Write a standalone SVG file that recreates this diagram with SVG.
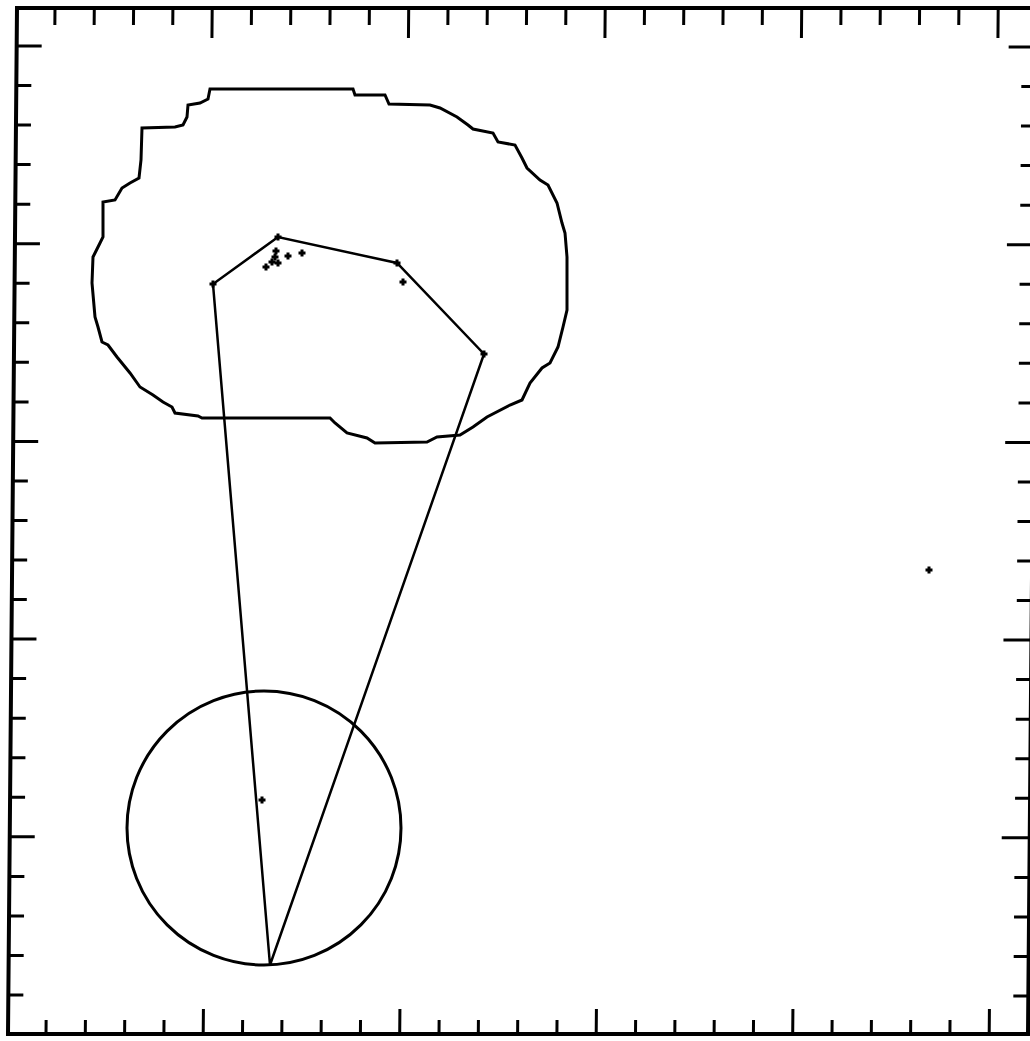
<svg xmlns="http://www.w3.org/2000/svg" xmlns:xlink="http://www.w3.org/1999/xlink" width="1030" height="1041" viewBox="0 0 1030 1041">
<style>
.frame{fill:none;stroke:#000;stroke-width:4}
.tick{stroke:#000;stroke-width:3}
.shape{fill:none;stroke:#000;stroke-width:3;stroke-linejoin:miter}
.edge{fill:none;stroke:#000;stroke-width:2.5}
</style>
<defs>
<path id="pt" d="M-3.5,0H3.5M0,-3.5V3.5" stroke="#000" stroke-width="3"/>
</defs>
<rect width="1030" height="1041" fill="#fff"/>
<g id="frame" transform="matrix(1 0 -0.00877 1 0.07 0)">
<rect class="frame" x="17" y="8" width="1020" height="1026"/>
<g class="tick">
<path d="M55,8v17M94.3,8v17M133.6,8v17M172.9,8v17M212.2,8v30M251.5,8v17M290.8,8v17M330.1,8v17M369.4,8v17M408.7,8v30M448,8v17M487.3,8v17M526.6,8v17M565.9,8v17M605.2,8v30M644.5,8v17M683.8,8v17M723.1,8v17M762.4,8v17M801.7,8v30M841,8v17M880.3,8v17M919.6,8v17M958.9,8v17M998.2,8v30"/>
<path d="M55,1034v-14M94.3,1034v-14M133.6,1034v-14M172.9,1034v-14M212.2,1034v-25M251.5,1034v-14M290.8,1034v-14M330.1,1034v-14M369.4,1034v-14M408.7,1034v-25M448,1034v-14M487.3,1034v-14M526.6,1034v-14M565.9,1034v-14M605.2,1034v-25M644.5,1034v-14M683.8,1034v-14M723.1,1034v-14M762.4,1034v-14M801.7,1034v-25M841,1034v-14M880.3,1034v-14M919.6,1034v-14M958.9,1034v-14M998.2,1034v-25"/>
<path d="M17,46h25M17,85.5h15M17,125h15M17,164.6h15M17,204.2h15M17,243.7h25M17,283.2h15M17,322.8h15M17,362.3h15M17,401.9h15M17,441.4h25M17,481h15M17,520.5h15M17,560h15M17,599.6h15M17,639.1h25M17,678.6h15M17,718.2h15M17,757.7h15M17,797.3h15M17,836.8h25M17,876.4h15M17,915.9h15M17,955.4h15M17,995h15"/>
<path d="M1037,47h-28M1037,86.5h-15M1037,126h-15M1037,165.6h-15M1037,205.2h-15M1037,244.7h-28M1037,284.2h-15M1037,323.8h-15M1037,363.3h-15M1037,402.9h-15M1037,442.4h-28M1037,482h-15M1037,521.5h-15M1037,561h-15M1037,600.6h-15M1037,640.1h-28M1037,679.6h-15M1037,719.2h-15M1037,758.7h-15M1037,798.3h-15M1037,837.8h-28M1037,877.4h-15M1037,916.9h-15M1037,956.4h-15M1037,996h-15"/>
</g>
</g>
<g id="region">
<path class="shape" d="M210,89L353,89L355,95L385,95L389,104L430,105L440,108L457,117L468,125L473,129L493,133L498,142L515,145L522,158L527,168L540,180L548,185L557,203L562,223L565,233L567,257L567,310L563,327L558,347L550,363L542,368L530,383L522,400L510,405L487,417L473,427L460,435L437,437L427,442L375,443L367,438L347,433L335,423L330,418L202,418L198,416L175,413L172,407L163,402L153,395L140,387L130,373L117,357L108,345L102,342L98,327L95,317L92,283L93,257L95,253L100,243L103,237L103,202L115,200L122,188L130,183L139,178L141,160L142,128L175,127L183,125L187,117L188,105L200,103L208,99Z"/>
</g>
<g id="circle">
<circle class="shape" cx="264" cy="828" r="137"/>
</g>
<g id="connectors">
<polyline class="edge" points="270,965 213,284 278,237 397,263 484,354 270,965"/>
</g>
<g id="points">
<use xlink:href="#pt" x="278" y="237"/>
<use xlink:href="#pt" x="213" y="284"/>
<use xlink:href="#pt" x="397" y="263"/>
<use xlink:href="#pt" x="484" y="354"/>
<use xlink:href="#pt" x="288" y="256"/>
<use xlink:href="#pt" x="302" y="253"/>
<use xlink:href="#pt" x="276" y="251"/>
<use xlink:href="#pt" x="275" y="257"/>
<use xlink:href="#pt" x="272" y="262"/>
<use xlink:href="#pt" x="266" y="267"/>
<use xlink:href="#pt" x="278" y="263"/>
<use xlink:href="#pt" x="403" y="282"/>
<use xlink:href="#pt" x="262" y="800"/>
<use xlink:href="#pt" x="929" y="570"/>
</g>
</svg>
